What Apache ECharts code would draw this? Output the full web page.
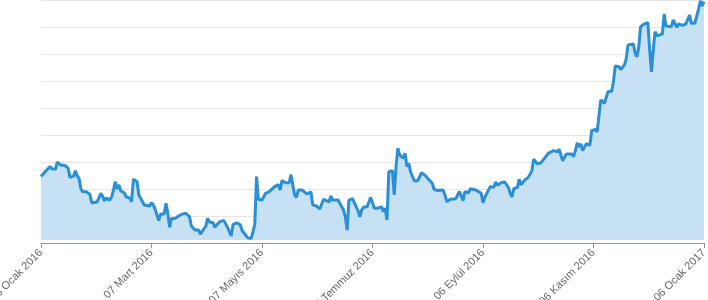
<!DOCTYPE html>
<html><head><meta charset="utf-8">
<script src="https://cdn.jsdelivr.net/npm/echarts@6/dist/echarts.min.js"></script>
<style>html,body{margin:0;padding:0;background:#fff}#c{width:708px;height:300px}</style>
</head><body><div id="c"></div>
<script>
// Days counted from 06 Ocak 2016
const monthNames = ['Ocak','Şubat','Mart','Nisan','Mayıs','Haziran','Temmuz','Ağustos','Eylül','Ekim','Kasım','Aralık'];
const tickStepDays = 61;
const spanDays = 366;

const dayOffsets = [
0,1,2,3,5,6,8,9,10,11,13,14,15,16,17,18,19,20,21,22,23,24,25,26,27,28,29,31,32,33,34,35,36,37,38,39,40,41,42,43,44,45,46,47,48,49,50,51,52,53,54,55,57,58,60,61,62,63,64,65,66,68,69,70,71,72,74,75,76,78,80,81,82,83,84,85,86,87,88,89,91,92,
93,95,96,97,99,101,102,103,105,106,108,109,110,111,112,114,116,117,118,119,120,122,123,124,126,127,129,130,131,132,133,135,136,137,138,139,140,141,142,144,145,147,148,149,150,151,152,154,155,156,157,159,160,161,162,164,165,166,167,168,169,170,172,173,174,175,176,177,178,180,181,182,183,
184,186,187,188,189,190,191,192,193,194,195,196,197,198,199,200,201,202,203,204,205,206,207,208,209,210,212,213,214,216,217,219,220,222,223,224,226,227,229,230,231,232,233,234,235,236,237,238,240,241,243,244,245,247,248,249,250,251,252,254,255,256,257,258,259,260,261,263,264,265,266,267,269,270,271,272,273,274,275,
276,277,280,281,283,285,286,287,288,289,290,291,293,294,295,296,297,298,299,301,302,303,304,305,306,307,308,309,311,312,313,315,316,317,319,320,321,322,323,324,325,327,328,329,330,331,333,335,336,337,338,339,340,341,343,344,345,346,348,349,350,351,352,354,355,356,358,359,360,361,362,363,364,365,366
];
const rates = [
2.996,2.991,3.012,3.014,3.033,3.025,3.023,3.050,3.050,3.038,3.038,3.038,3.027,2.993,2.991,2.998,3.018,2.998,2.990,2.951,2.940,2.944,2.940,2.946,2.930,2.899,2.894,2.902,2.904,2.934,2.924,2.906,2.916,2.909,2.909,2.921,2.946,2.977,2.949,2.965,2.943,2.940,2.936,2.921,2.928,2.916,2.903,2.986,2.986,2.977,2.928,2.916,2.891,2.887,2.887,2.899,2.891,2.875,2.872,2.833,2.857,2.857,2.897,2.860,2.808,2.841,2.841,2.839,2.850,2.857,2.860,2.865,2.847,2.813,2.808,2.798,2.802,2.798,2.783,2.793,2.813,2.841,
2.828,2.825,2.808,2.817,2.830,2.833,2.830,2.808,2.776,2.818,2.825,2.825,2.817,2.796,2.788,2.770,2.766,2.773,2.817,2.996,2.912,2.909,2.912,2.934,2.940,2.946,2.959,2.964,2.966,2.946,2.981,2.973,2.971,2.973,3.003,2.965,2.928,2.919,2.946,2.946,2.944,2.931,2.924,2.940,2.891,2.894,2.887,2.877,2.875,2.912,2.912,2.902,2.924,2.909,2.912,2.909,2.902,2.884,2.872,2.847,2.798,2.909,2.914,2.919,2.884,2.870,2.847,2.872,2.882,2.884,2.890,2.919,2.921,
2.879,2.879,2.875,2.884,2.866,2.879,2.835,3.014,3.013,3.018,2.928,3.033,3.101,3.076,3.080,3.064,3.082,3.033,3.045,3.014,3.008,2.981,2.988,2.981,2.981,3.010,3.001,2.993,2.988,2.971,2.949,2.944,2.944,2.946,2.928,2.903,2.912,2.914,2.914,2.928,2.941,2.941,2.907,2.940,2.940,2.936,2.951,2.946,2.946,2.944,2.934,2.899,2.919,2.946,2.959,2.956,2.956,2.976,2.964,2.973,2.976,2.976,2.969,2.956,2.934,2.921,2.951,2.956,2.986,2.965,2.959,2.983,2.993,2.993,3.018,3.060,3.055,3.043,3.050,
3.047,3.047,3.082,3.087,3.092,3.088,3.097,3.094,3.054,3.053,3.080,3.084,3.080,3.070,3.092,3.121,3.107,3.117,3.092,3.117,3.119,3.112,3.166,3.166,3.171,3.162,3.220,3.280,3.267,3.265,3.310,3.312,3.347,3.406,3.403,3.393,3.391,3.408,3.430,3.483,3.487,3.487,3.453,3.440,3.477,3.551,3.561,3.566,3.465,3.384,3.467,3.533,3.517,3.514,3.524,3.598,3.554,3.549,3.551,3.576,3.576,3.549,3.561,3.556,3.559,3.561,3.594,3.564,3.564,3.564,3.564,3.616,3.647,3.628,3.644
];

const yMin = 2.7611, yMax = 3.65, gridStep = 0.1;

function pad(n){return (n<10?'0':'')+n;}
function dayLabel(v){
  const d = new Date(Date.UTC(2016,0,6+Math.round(v)));
  return pad(d.getUTCDate())+' '+monthNames[d.getUTCMonth()]+' '+d.getUTCFullYear();
}

const chart = echarts.init(document.getElementById('c'), null, {renderer:'canvas'});
chart.setOption({
  animation:false,
  backgroundColor:'#ffffff',
  grid:{left:41,right:4,top:0,bottom:60,containLabel:false,outerBoundsMode:'none'},
  xAxis:{
    type:'value', min:0, max:spanDays, interval:tickStepDays, offset:3, position:'bottom',
    splitLine:{show:false},
    axisLine:{onZero:false,lineStyle:{color:'#7a97b3',width:1}},
    axisTick:{length:5,lineStyle:{color:'#7a97b3'}},
    axisLabel:{rotate:45,margin:8,color:'#666666',fontSize:11,fontFamily:'Liberation Sans, Arial, sans-serif',
      showMinLabel:true,showMaxLabel:true,hideOverlap:false,formatter:dayLabel}
  },
  yAxis:[
    {type:'value',min:yMin,max:yMax,show:false},
    {type:'value',inverse:true,min:0,max:(yMax-yMin)/gridStep,interval:1,position:'left',
     axisLabel:{show:false},axisLine:{show:false},axisTick:{show:false},
     splitLine:{show:true,showMaxLine:false,lineStyle:{color:'#e6e6e6',width:1}}}
  ],
  series:[{
    type:'line', yAxisIndex:0,
    data: dayOffsets.map((d,i)=>[d,rates[i]]),
    symbol:'none', showSymbol:false,
    lineStyle:{color:'#2a8fd7',width:3},
    itemStyle:{color:'#2a8fd7'},
    areaStyle:{color:'#c6e0f4',opacity:1}
  }]
});
</script></body></html>
